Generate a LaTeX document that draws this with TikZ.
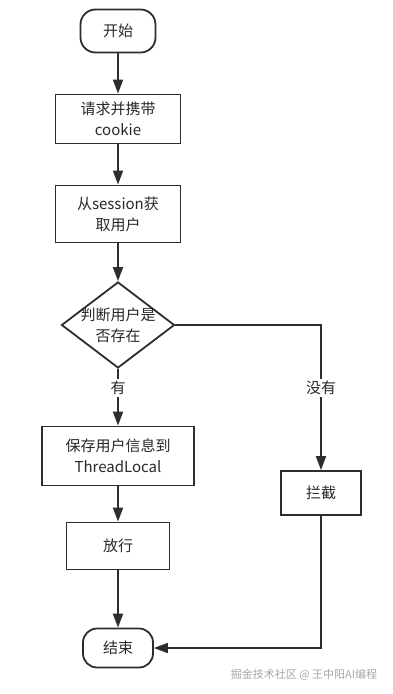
\documentclass[tikz,border=0pt]{standalone}
\usepackage{fontspec}
\setmainfont{Noto Sans CJK SC}
\usetikzlibrary{shapes.geometric,arrows.meta,positioning}

\begin{document}
\begin{tikzpicture}[x=1pt, y=-1pt,
    letra/.style={text=tinta, align=center, font=\fontsize{15}{21}\selectfont},
    paso/.style={letra, draw=linea, line width=1.8pt, inner sep=0pt},
    terminal/.style={paso, rounded corners=15pt},
    flecha/.style={draw=linea, line width=1.8pt, -{Triangle[length=14pt, width=10pt]}},
    etiqueta/.style={letra, fill=white, inner sep=2pt}]
    % Colores
    \definecolor{linea}{RGB}{45,45,45}
    \definecolor{tinta}{RGB}{40,40,40}
    \definecolor{marca}{RGB}{165,165,165}

    \useasboundingbox (0,0) rectangle (393,694);

    % Columna principal
    \node[terminal, minimum width=75pt, minimum height=43pt] (start) at (118,31) {开始};
    \node[paso, minimum width=125pt, minimum height=49pt] (req) at (118,119) {请求并携带\\cookie};
    \node[paso, minimum width=125pt, minimum height=57pt] (sess) at (118,214) {从session获\\取用户};
    \node[diamond, draw=linea, line width=1.8pt, inner sep=0pt, minimum width=113pt, minimum height=86pt,
          label={[letra]center:判断用户是\\否存在}] (check) at (118,325) {};
    \node[paso, minimum width=152pt, minimum height=59pt] (save) at (118,456) {保存用户信息到\\ThreadLocal};
    \node[paso, minimum width=103pt, minimum height=47pt] (pass) at (118,546) {放行};
    \node[terminal, minimum width=70pt, minimum height=39pt, rounded corners=14pt] (stop) at (118,648) {结束};

    % Rama derecha
    \node[paso, minimum width=80pt, minimum height=44pt] (block) at (321,493) {拦截};

    % Conexiones
    \draw[flecha] (start) -- (req);
    \draw[flecha] (req) -- (sess);
    \draw[flecha] (sess) -- (check);
    \draw[flecha] (check) -- node[etiqueta, pos=0.34] {有} (save);
    \draw[flecha] (check.east) -| node[etiqueta, pos=0.716] {没有} (block);
    \draw[flecha] (save) -- (pass);
    \draw[flecha] (pass) -- (stop);
    \draw[flecha] (block) |- (stop);

    % Marca de agua
    \node[text=marca, font=\fontsize{11}{14}\selectfont] (wm) at (304,675) {掘金技术社区 @ 王中阳AI编程};
\end{tikzpicture}
\end{document}
